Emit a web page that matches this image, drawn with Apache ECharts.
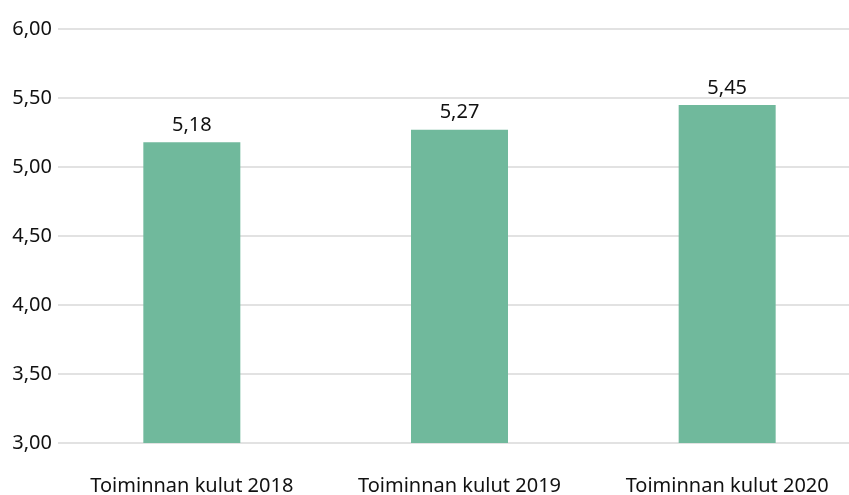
<!DOCTYPE html>
<html>
<head>
<meta charset="utf-8">
<script src="https://cdn.jsdelivr.net/npm/echarts@6/dist/echarts.min.js"></script>
<style>
  html, body { margin: 0; padding: 0; background: #fff; }
  #chart { width: 849px; height: 495px; }
</style>
</head>
<body>
<div id="chart"></div>
<script>
// Toiminnan kulut
const categories = ['Toiminnan kulut 2018', 'Toiminnan kulut 2019', 'Toiminnan kulut 2020']
const values = [5.18, 5.27, 5.45]
const yMin = 3
const yMax = 6
const yStep = 0.5

const fmt = v => v.toFixed(2).replace('.', ',')
const font = 'Noto Sans'

let chart = echarts.init(document.getElementById('chart'))
chart.setOption({
  animation: false,
  grid: { left: 58, width: 803, top: 29, height: 414, outerBoundsMode: 'none' },
  xAxis: {
    type: 'category',
    data: categories,
    axisLine: { show: false },
    axisTick: { show: false },
    axisLabel: { color: '#111', fontSize: 20, fontFamily: font, margin: 33, interval: 0, hideOverlap: false }
  },
  yAxis: {
    type: 'value',
    min: yMin,
    max: yMax,
    interval: yStep,
    axisLine: { show: false },
    axisTick: { show: false },
    splitLine: { lineStyle: { color: '#d9d9d9', width: 1.5 } },
    axisLabel: { color: '#111', fontSize: 20, fontFamily: font, margin: 6, formatter: fmt }
  },
  series: [{
    type: 'bar',
    data: values,
    barWidth: 97,
    itemStyle: { color: '#70b99c' },
    label: {
      show: true,
      position: 'top',
      distance: 7,
      color: '#111',
      fontSize: 20,
      fontFamily: font,
      formatter: p => fmt(p.value)
    }
  }]
})
</script>
</body>
</html>
